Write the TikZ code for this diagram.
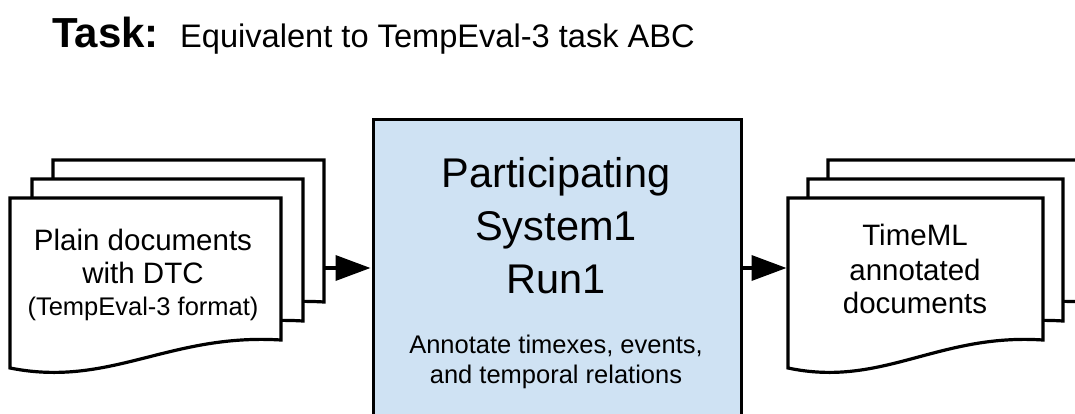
\documentclass[tikz,border=0pt]{standalone}
\usepackage{fontspec}
\setmainfont{Liberation Sans}
\usetikzlibrary{arrows.meta}
\definecolor{boxblue}{RGB}{207,226,243}
\begin{document}
\begin{tikzpicture}[x=1pt,y=-1pt,
  docline/.style={draw=black,line width=3.2pt,fill=white,line join=miter},
  sysbox/.style={draw=black,line width=3pt,fill=boxblue,inner sep=0pt,
    minimum width=368pt,minimum height=330pt,anchor=north west},
  arr/.style={line width=3.6pt,shorten >=1.5pt,-{Triangle[length=35pt,width=25pt]}},
  txt/.style={inner sep=0pt,anchor=base},
  titlebold/.style={txt,anchor=base west,font=\fontsize{42}{48}\selectfont\bfseries},
  titlereg/.style={txt,anchor=base west,font=\fontsize{32.6}{38}\selectfont},
  docfont/.style={txt,font=\fontsize{29.5}{34}\selectfont},
  docsmall/.style={txt,font=\fontsize{25.5}{30}\selectfont},
  sysfont/.style={txt,font=\fontsize{41.5}{50}\selectfont},
  subfont/.style={txt,font=\fontsize{25.5}{30}\selectfont}
]
\clip (0,0) rectangle (1075,414);
\fill[white] (0,0) rectangle (1075,414);

% title
\node[titlebold] (taskLbl) at (52,48) {Task:};
\node[titlereg] (taskTxt) at (180,48) {Equivalent to TempEval-3 task ABC};

% input documents (back to front)
\path[docline] (53,160) -- (324,160) -- (324,302) .. controls (212,295) and (153,350) .. (53,330) -- cycle;
\path[docline] (32,179) -- (303,179) -- (303,321) .. controls (191,314) and (132,369) .. (32,349) -- cycle;
\path[docline] (10,198) -- (281,198) -- (281,340) .. controls (169,333) and (110,388) .. (10,368) -- cycle;
\node[docfont] (inL1) at (143,250) {Plain documents};
\node[docfont] (inL2) at (143,283) {with DTC};
\node[docsmall] (inL3) at (143,315) {(TempEval-3 format)};

% output documents (back to front)
\path[docline] (828,160) -- (1083,160) -- (1083,302) .. controls (978,295) and (922,350) .. (828,330) -- cycle;
\path[docline] (808,179) -- (1063,179) -- (1063,321) .. controls (958,314) and (902,369) .. (808,349) -- cycle;
\path[docline] (788,198) -- (1043,198) -- (1043,340) .. controls (938,333) and (882,388) .. (788,368) -- cycle;
\node[docfont] (outL1) at (915,245) {TimeML};
\node[docfont] (outL2) at (915,280) {annotated};
\node[docfont] (outL3) at (915,313) {documents};

% participating system
\node[sysbox] (sys) at (372,118) {};
\node[sysfont] (sysL1) at (556,187) {Participating};
\node[sysfont] (sysL2) at (556,240) {System1};
\node[sysfont] (sysL3) at (556,293) {Run1};
\node[subfont] (subL1) at (556,353) {Annotate timexes, events,};
\node[subfont] (subL2) at (556,383) {and temporal relations};

% connectors
\coordinate (inBackR) at (324,268);
\coordinate (outFrontL) at (788,268);
\draw[arr] (inBackR) -- (inBackR -| sys.west);
\draw[arr] (sys.east |- outFrontL) -- (outFrontL);
\end{tikzpicture}
\end{document}
